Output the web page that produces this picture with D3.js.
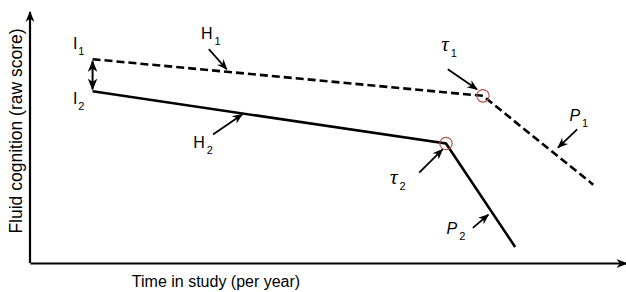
<!DOCTYPE html>
<html>
<head>
<meta charset="utf-8">
<title>Piecewise cognition model</title>
<script src="https://d3js.org/d3.v7.min.js"></script>
<style>
  body { margin: 0; background: #fff; }
  text { font-family: "Liberation Sans", Arial, sans-serif; fill: #000; }
</style>
</head>
<body>
<script>
// time (years) and score for each group: start, change point, end
var group1Time = [1.05, 7.6, 9.45];
var group1Score = [40.6, 33.3, 15.6];
var group2Time = [1.05, 6.98, 8.14];
var group2Score = [34.2, 23.8, 3.2];

// labels: [text, subscript, italic, font, time, score]
var labelNames = ["I", "I", "H", "H", "τ", "τ", "P", "P"];
var labelSubs = ["1", "2", "1", "2", "1", "2", "1", "2"];
var labelTime = [0.72, 0.72, 2.87, 2.74, 6.9, 6.04, 9.05, 6.99];
var labelScore = [42.6, 31.6, 44.6, 23.0, 42.2, 15.8, 28.2, 5.8];

// pointer arrows: from (t0,s0) to (t1,s1)
var arrowT0 = [3.0, 3.07, 7.01, 6.53, 9.18, 7.43];
var arrowS0 = [42.6, 25.6, 38.6, 18.0, 26.6, 7.0];
var arrowT1 = [3.3, 3.56, 7.5, 6.92, 8.86, 7.69];
var arrowS1 = [38.6, 29.6, 34.6, 22.6, 23.0, 9.6];

var width = 626, height = 292;
var svg = d3.select("body").append("svg")
    .attr("width", width)
    .attr("height", height);

var x = d3.scaleLinear().domain([0, 10]).range([30, 626]);
var y = d3.scaleLinear().domain([0, 50]).range([263, 12]);

var defs = svg.append("defs");
defs.append("marker")
    .attr("id", "axisHead")
    .attr("viewBox", "0 0 10 10")
    .attr("refX", 9).attr("refY", 5)
    .attr("markerWidth", 5).attr("markerHeight", 5)
    .attr("markerUnits", "strokeWidth")
    .attr("orient", "auto")
    .append("path").attr("d", "M0,1L10,5L0,9L3,5Z").attr("fill", "#000");
defs.append("marker")
    .attr("id", "head")
    .attr("viewBox", "0 0 10 10")
    .attr("refX", 9).attr("refY", 5)
    .attr("markerWidth", 6).attr("markerHeight", 6)
    .attr("markerUnits", "strokeWidth")
    .attr("orient", "auto-start-reverse")
    .append("path").attr("d", "M0,1L10,5L0,9L3,5Z").attr("fill", "#000");

// axes without ticks
var xAxis = svg.append("g")
    .attr("transform", "translate(0," + y(0) + ")")
    .call(d3.axisBottom(x).ticks(0).tickSizeOuter(0));
var yAxis = svg.append("g")
    .attr("transform", "translate(" + x(0) + ",0)")
    .call(d3.axisLeft(y).ticks(0).tickSizeOuter(0));
[xAxis, yAxis].forEach(function(a) {
  a.select(".domain")
    .attr("stroke", "#000")
    .attr("stroke-width", 2.2)
    .attr("marker-end", "url(#axisHead)");
});
yAxis.select(".domain").attr("d", "M0," + y(0) + "V" + y(50));

svg.append("text")
    .attr("x", 216).attr("y", 287)
    .attr("text-anchor", "middle")
    .style("font-size", "16px")
    .text("Time in study (per year)");
svg.append("text")
    .attr("transform", "translate(22,131) rotate(-90)")
    .attr("text-anchor", "middle")
    .style("font-size", "17.5px")
    .text("Fluid cognition (raw score)");

var line = d3.line()
    .x(function(d) { return x(d[0]); })
    .y(function(d) { return y(d[1]); });

svg.append("path")
    .datum(d3.zip(group1Time, group1Score))
    .attr("d", line)
    .attr("fill", "none")
    .attr("stroke", "#000")
    .attr("stroke-width", 2.6)
    .attr("stroke-dasharray", "8,4");
svg.append("path")
    .datum(d3.zip(group2Time, group2Score))
    .attr("d", line)
    .attr("fill", "none")
    .attr("stroke", "#000")
    .attr("stroke-width", 2.6);

// change points
svg.selectAll(".cp")
    .data([[group1Time[1], group1Score[1]], [group2Time[1], group2Score[1]]])
    .enter().append("circle")
    .attr("class", "cp")
    .attr("cx", function(d) { return x(d[0]); })
    .attr("cy", function(d) { return y(d[1]); })
    .attr("r", 6.2)
    .attr("fill", "none")
    .attr("stroke", "#b0564e")
    .attr("stroke-width", 1.2);

// intercept difference
svg.append("line")
    .attr("x1", x(group1Time[0])).attr("x2", x(group1Time[0]))
    .attr("y1", y(group1Score[0]) + 2).attr("y2", y(group2Score[0]) - 2)
    .attr("stroke", "#000")
    .attr("stroke-width", 2)
    .attr("marker-start", "url(#head)")
    .attr("marker-end", "url(#head)");

// pointer arrows
svg.selectAll(".ptr")
    .data(d3.range(arrowT0.length))
    .enter().append("line")
    .attr("class", "ptr")
    .attr("x1", function(i) { return x(arrowT0[i]); })
    .attr("y1", function(i) { return y(arrowS0[i]); })
    .attr("x2", function(i) { return x(arrowT1[i]); })
    .attr("y2", function(i) { return y(arrowS1[i]); })
    .attr("stroke", "#000")
    .attr("stroke-width", 1.8)
    .attr("marker-end", "url(#head)");

// labels
var lab = svg.selectAll(".lab")
    .data(d3.range(labelNames.length))
    .enter().append("text")
    .attr("class", "lab")
    .attr("x", function(i) { return x(labelTime[i]); })
    .attr("y", function(i) { return y(labelScore[i]); })
    .style("font-size", function(i) { return labelNames[i] === "τ" ? "21px" : "16px"; })
    .style("font-style", function(i) { return labelNames[i] === "I" || labelNames[i] === "H" ? "normal" : "italic"; })
    .style("font-family", function(i) { return labelNames[i] === "τ" ? "'Liberation Serif', serif" : null; });
lab.append("tspan").text(function(i) { return labelNames[i]; });
lab.append("tspan")
    .attr("dx", function(i) { return labelNames[i] === "I" ? 1 : 2; })
    .attr("dy", 6)
    .style("font-size", "11px")
    .style("font-style", "normal")
    .style("font-family", "'Liberation Sans', Arial, sans-serif")
    .text(function(i) { return labelSubs[i]; });
</script>
</body>
</html>
